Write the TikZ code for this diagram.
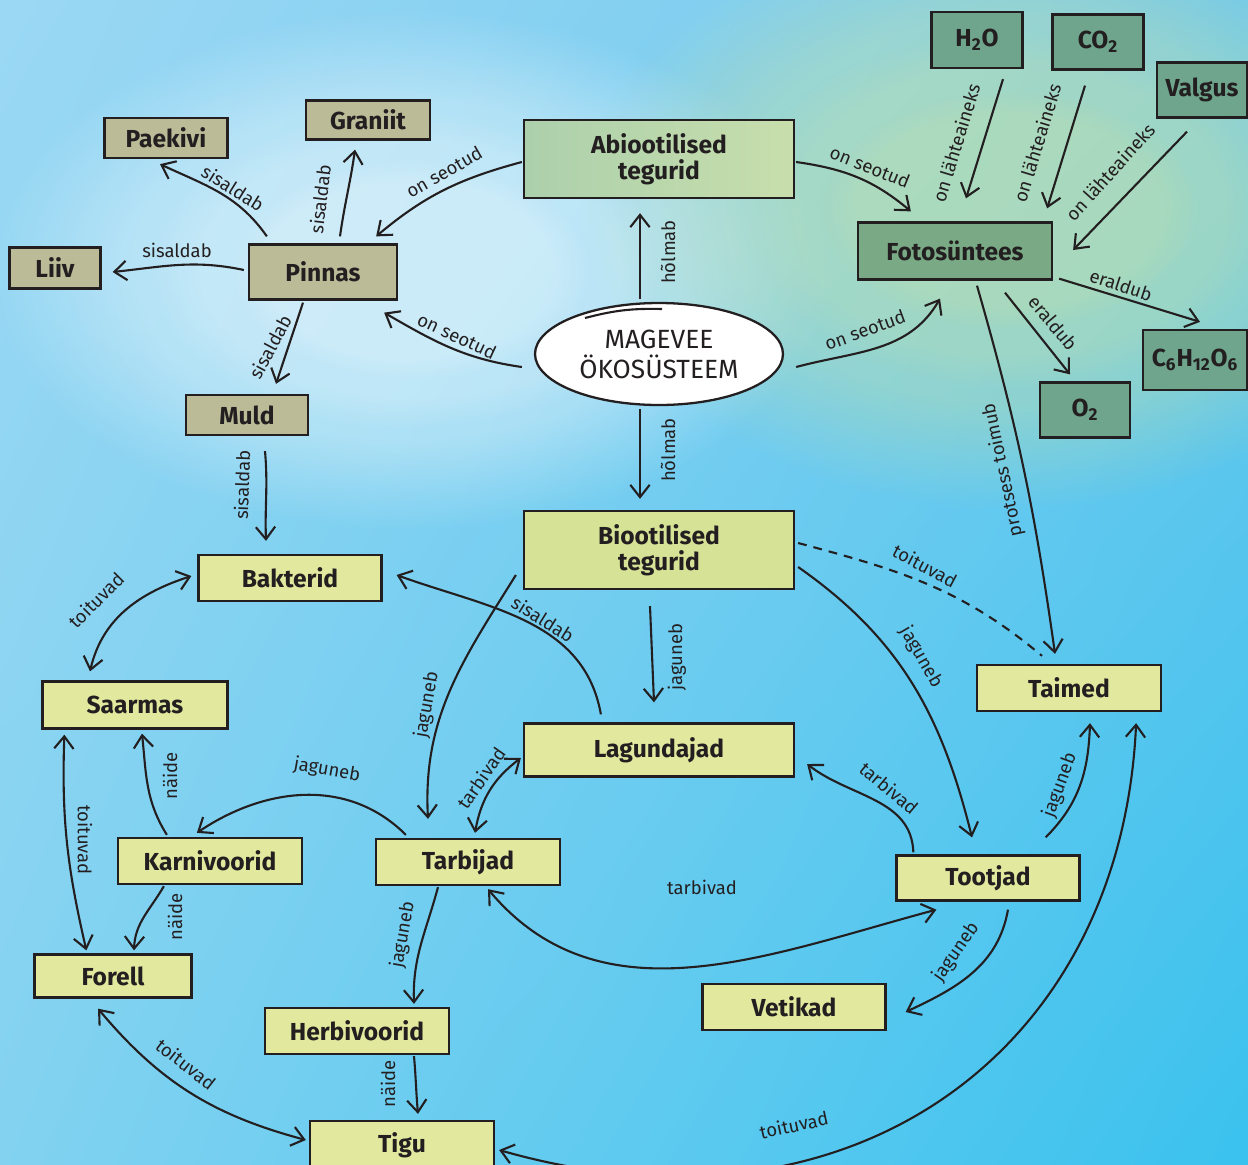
\documentclass[tikz,border=0pt]{standalone}
\usepackage{fontspec}
\setmainfont{Fira Sans}
\usetikzlibrary{arrows.meta,calc,fadings,shadings,shapes.geometric}

\definecolor{linecol}{RGB}{35,31,32}
\definecolor{khaki}{RGB}{188,187,152}
\definecolor{abioleft}{RGB}{172,208,172}
\definecolor{abioright}{RGB}{200,222,172}
\definecolor{fotofill}{RGB}{122,170,133}
\definecolor{chemfill}{RGB}{110,165,140}
\definecolor{biofill}{RGB}{214,226,150}
\definecolor{yelfill}{RGB}{226,232,158}
\definecolor{bgA}{RGB}{155,216,244}
\definecolor{bgB}{RGB}{110,200,238}
\definecolor{bgC}{RGB}{130,210,240}
\definecolor{bgD}{RGB}{58,194,238}
\definecolor{yellowbg}{RGB}{212,230,158}

\newcommand\nodefont{\fontsize{14}{15}\selectfont\bfseries}
\newcommand\ecofont{\fontsize{15}{17}\selectfont}
\newcommand\lblfont{\fontsize{10.5}{12}\selectfont}

\tikzset{
  box/.style={draw=linecol, line width=1.3pt, font=\nodefont, text=linecol, align=center, inner sep=0pt},
  soil/.style={box, fill=khaki},
  chem/.style={box, fill=chemfill},
  life/.style={box, fill=yelfill},
  conn/.style={draw=linecol, line width=1.2pt, -{Straight Barb[length=7pt,width=11pt]}},
  both/.style={conn, {Straight Barb[length=7pt,width=11pt]}-{Straight Barb[length=7pt,width=11pt]}},
  lbl/.style={font=\lblfont, text=linecol, inner sep=0pt},
  glow/.style={opacity=0.2, path fading=circle with fuzzy edge 20 percent},
}

\begin{document}
\begin{tikzpicture}[x=0.02cm, y=-0.02cm]
  \useasboundingbox (0,0) rectangle (1248,1164);

  % background
  \shade[upper left=bgA, upper right=bgB, lower left=bgC, lower right=bgD] (0,0) rectangle (1248,1164);
  \foreach \rx/\ry in {420/260, 340/210, 260/160, 180/110} {
    \fill[white, glow] (410,270) ellipse [x radius=\rx, y radius=\ry];
  }
  \foreach \rx/\ry in {430/300, 350/240, 270/180, 190/120} {
    \fill[yellowbg, glow] (1010,210) ellipse [x radius=\rx, y radius=\ry];
  }

  % soil
  \node[soil, minimum width=2.46cm, minimum height=0.8cm] (paekivi) at (166,138) {Paekivi};
  \node[soil, minimum width=2.48cm, minimum height=0.78cm] (graniit) at (368,120) {Graniit};
  \node[soil, minimum width=1.82cm, minimum height=0.82cm] (liiv) at (55,268) {Liiv};
  \node[soil, minimum width=2.96cm, minimum height=1.1cm] (pinnas) at (323,272) {Pinnas};
  \node[soil, minimum width=2.44cm, minimum height=0.8cm] (muld) at (247,415) {Muld};

  % abiotic side
  \node[box, left color=abioleft, right color=abioright, minimum width=5.4cm, minimum height=1.56cm] (abio) at (659,159) {Abiootilised\\tegurid};
  \node[ellipse, draw=linecol, line width=1.3pt, fill=white, text=linecol, inner sep=0pt,
        minimum width=4.96cm, minimum height=2.04cm, font=\ecofont, align=center] (mage) at (659,354) {MAGEVEE\\ÖKOSÜSTEEM};
  \draw[linecol, line width=1.2pt] (585,318) to[bend left=8] (662,309);
  \node[box, fill=fotofill, minimum width=3.88cm, minimum height=1.14cm] (foto) at (955,251) {Fotosüntees};
  \node[chem, minimum width=1.82cm, minimum height=1.12cm] (htwo) at (977,40) {H\textsubscript{2}O};
  \node[chem, minimum width=1.82cm, minimum height=1.1cm] (cotwo) at (1098,42) {CO\textsubscript{2}};
  \node[chem, minimum width=1.8cm, minimum height=1.1cm] (valgus) at (1202,90) {Valgus};
  \node[chem, minimum width=2.08cm, minimum height=1.2cm] (gluk) at (1195,360) {C\textsubscript{6}H\textsubscript{12}O\textsubscript{6}};
  \node[chem, minimum width=1.8cm, minimum height=1.1cm] (otwo) at (1085,410) {O\textsubscript{2}};

  % biotic side
  \node[box, fill=biofill, minimum width=5.4cm, minimum height=1.56cm] (bio) at (659,550) {Biootilised\\tegurid};
  \node[life, minimum width=3.66cm, minimum height=0.92cm] (bakterid) at (290,578) {Bakterid};
  \node[life, minimum width=3.7cm, minimum height=0.94cm] (saarmas) at (135,705) {Saarmas};
  \node[life, minimum width=5.4cm, minimum height=1.06cm] (lagund) at (659,750) {Lagundajad};
  \node[life, minimum width=3.68cm, minimum height=0.92cm] (taimed) at (1069,688) {Taimed};
  \node[life, minimum width=3.68cm, minimum height=0.92cm] (karniv) at (210,861) {Karnivoorid};
  \node[life, minimum width=3.68cm, minimum height=0.92cm] (tarbijad) at (468,862) {Tarbijad};
  \node[life, minimum width=3.66cm, minimum height=0.9cm] (tootjad) at (988,878) {Tootjad};
  \node[life, minimum width=3.14cm, minimum height=0.86cm] (forell) at (113,976) {Forell};
  \node[life, minimum width=3.68cm, minimum height=0.92cm] (herbiv) at (357,1031) {Herbivoorid};
  \node[life, minimum width=3.66cm, minimum height=0.92cm] (vetikad) at (794,1007) {Vetikad};
  \node[life, minimum width=3.68cm, minimum height=0.96cm] (tigu) at (402,1145) {Tigu};

  % soil connectors
  \draw[conn] ($(pinnas.north west)+(19,-7)$) to[out=125,in=-25] ($(paekivi.south)+(-6,5)$);
  \draw[conn] ($(pinnas.north)+(17,-7)$) to[out=82,in=-98] ($(graniit.south)+(-13,9)$);
  \draw[conn] ($(pinnas.west)+(-4,-2)$) to[out=168,in=6] ($(liiv.east)+(11,4)$);
  \draw[conn] ($(pinnas.south)+(-20,2)$) -- ($(muld.north)+(29,-10)$);
  \draw[conn] ($(muld.south)+(18,15)$) to[out=-85,in=92] ($(bakterid.north)+(-24,-13)$);
  \node[lbl, rotate=-32] at (233,188) {sisaldab};
  \node[lbl, rotate=83] at (320,199) {sisaldab};
  \node[lbl] at (177,250) {sisaldab};
  \node[lbl, rotate=62] at (270,347) {sisaldab};
  \node[lbl, rotate=88] at (242,485) {sisaldab};

  % ecosystem connectors
  \draw[conn] ($(abio.west)+(-1,3)$) to[out=195,in=40] ($(pinnas.north east)+(-22,-7)$);
  \draw[conn] ($(mage.west)+(-12,13)$) to[out=172,in=-30] ($(pinnas.south east)+(-14,12)$);
  \draw[conn] ($(mage.north)+(-19,-3)$) -- ($(abio.south)+(-19,14)$);
  \draw[conn] ($(mage.south)+(-19,3)$) -- ($(bio.north)+(-19,-11)$);
  \draw[conn] ($(mage.east)+(12,13)$) to[out=15,in=-120] ($(foto.south)+(-15,18)$);
  \draw[conn] ($(abio.east)+(1,3)$) to[out=-8,in=140] ($(foto.north west)+(54,-10)$);
  \node[lbl, rotate=30] at (444,172) {on seotud};
  \node[lbl, rotate=-25] at (457,336) {on seotud};
  \node[lbl, rotate=90] at (668,252) {hõlmab};
  \node[lbl, rotate=90] at (668,450) {hõlmab};
  \node[lbl, rotate=20] at (865,330) {on seotud};
  \node[lbl, rotate=-22] at (870,167) {on seotud};

  % photosynthesis connectors
  \draw[conn] ($(htwo.south)+(26,10)$) -- ($(foto.north)+(11,-23)$);
  \draw[conn] ($(cotwo.south)+(-13,15)$) -- ($(foto.north east)+(-6,-13)$);
  \draw[conn] ($(valgus.south)+(-15,13)$) -- ($(foto.east)+(20,-1)$);
  \draw[conn] ($(foto.south east)+(6,-2)$) -- ($(gluk.north)+(5,-7)$);
  \draw[conn] ($(foto.south)+(50,12)$) -- ($(otwo.north)+(-15,-7)$);
  \draw[conn] ($(foto.south)+(22,5)$) to[out=-74,in=98] ($(taimed.north)+(-14,-10)$);
  \node[lbl, rotate=73] at (956,143) {on lähteaineks};
  \node[lbl, rotate=73] at (1037,143) {on lähteaineks};
  \node[lbl, rotate=48] at (1110,172) {on lähteaineks};
  \node[lbl, rotate=-18] at (1121,285) {eraldub};
  \node[lbl, rotate=-50] at (1053,323) {eraldub};
  \node[lbl, rotate=102] at (1003,470) {protsess toimub};

  % biotic connectors
  \draw[conn, -, dashed, dash pattern=on 5pt off 4pt] ($(bio.east)+(3,-7)$) to[out=-15,in=140] ($(taimed.north)+(-27,-8)$);
  \draw[conn] ($(bio.east)+(3,17)$) to[out=-35,in=104] ($(tootjad.north)+(-16,-17)$);
  \draw[conn] ($(bio.south)+(-9,16)$) -- ($(lagund.north)+(-5,-20)$);
  \draw[conn] ($(bio.west)+(-7,25)$) to[out=-122,in=93] ($(tarbijad.north)+(-40,-19)$);
  \draw[conn] ($(lagund.north west)+(78,-8)$) to[out=100,in=-20] ($(bakterid.east)+(14,-3)$);
  \node[lbl, rotate=-28] at (925,566) {toituvad};
  \node[lbl, rotate=-60] at (921,657) {jaguneb};
  \node[lbl, rotate=90] at (677,657) {jaguneb};
  \node[lbl, rotate=80] at (427,705) {jaguneb};
  \node[lbl, rotate=-32] at (543,619) {sisaldab};

  % food web
  \draw[both] ($(bakterid.west)+(-6,-2)$) to[out=198,in=77] ($(saarmas.north)+(-45,-9)$);
  \draw[both] ($(saarmas.south west)+(23,5)$) to[out=-92,in=103] ($(forell.north west)+(53,-3)$);
  \draw[conn] ($(karniv.north west)+(50,-2)$) to[out=122,in=-84] ($(saarmas.south)+(7,4)$);
  \draw[conn] ($(karniv.south west)+(47,1)$) to[out=-120,in=88] ($(forell.north)+(21,-3)$);
  \draw[conn] ($(tarbijad.north west)+(31,-3)$) to[out=135,in=34] ($(karniv.north west)+(80,-4)$);
  \draw[both] ($(tarbijad.north)+(7,-5)$) to[out=80,in=-143] ($(lagund.west)+(-2,8)$);
  \draw[conn] ($(tarbijad.south)+(-30,1)$) to[out=-105,in=92] ($(herbiv.north)+(57,-3)$);
  \draw[conn] ($(tootjad.north west)+(18,-2)$) to[out=92,in=-38] ($(lagund.east)+(12,14)$);
  \draw[both] ($(tarbijad.south)+(20,3)$) to[out=-50,in=195] ($(tootjad.south west)+(41,8)$);
  \draw[conn] ($(tootjad.north east)+(-35,-17)$) to[out=45,in=-92] ($(taimed.south)+(21,11)$);
  \draw[conn] ($(tootjad.south)+(20,8)$) to[out=-100,in=25] ($(vetikad.east)+(19,5)$);
  \draw[conn] ($(herbiv.south)+(57,1)$) to[out=-85,in=95] ($(tigu.north)+(16,-6)$);
  \draw[both] ($(forell.south)+(-15,10)$) to[out=-50,in=165] ($(tigu.west)+(-3,-5)$);
  \draw[both] ($(taimed.south east)+(-26,11)$) .. controls +(-15,330) and +(350,100) .. ($(tigu.east)+(4,5)$);
  \node[lbl, rotate=45] at (96,600) {toituvad};
  \node[lbl, rotate=-90] at (85,840) {toituvad};
  \node[lbl, rotate=90] at (170,776) {näide};
  \node[lbl, rotate=90] at (175,917) {näide};
  \node[lbl, rotate=-10] at (327,770) {jaguneb};
  \node[lbl, rotate=55] at (481,778) {tarbivad};
  \node[lbl, rotate=80] at (403,935) {jaguneb};
  \node[lbl, rotate=-40] at (889,788) {tarbivad};
  \node[lbl] at (702,887) {tarbivad};
  \node[lbl, rotate=70] at (1060,785) {jaguneb};
  \node[lbl, rotate=55] at (956,952) {jaguneb};
  \node[lbl, rotate=90] at (388,1084) {näide};
  \node[lbl, rotate=-38] at (186,1064) {toituvad};
  \node[lbl, rotate=12] at (794,1125) {toituvad};
\end{tikzpicture}
\end{document}
